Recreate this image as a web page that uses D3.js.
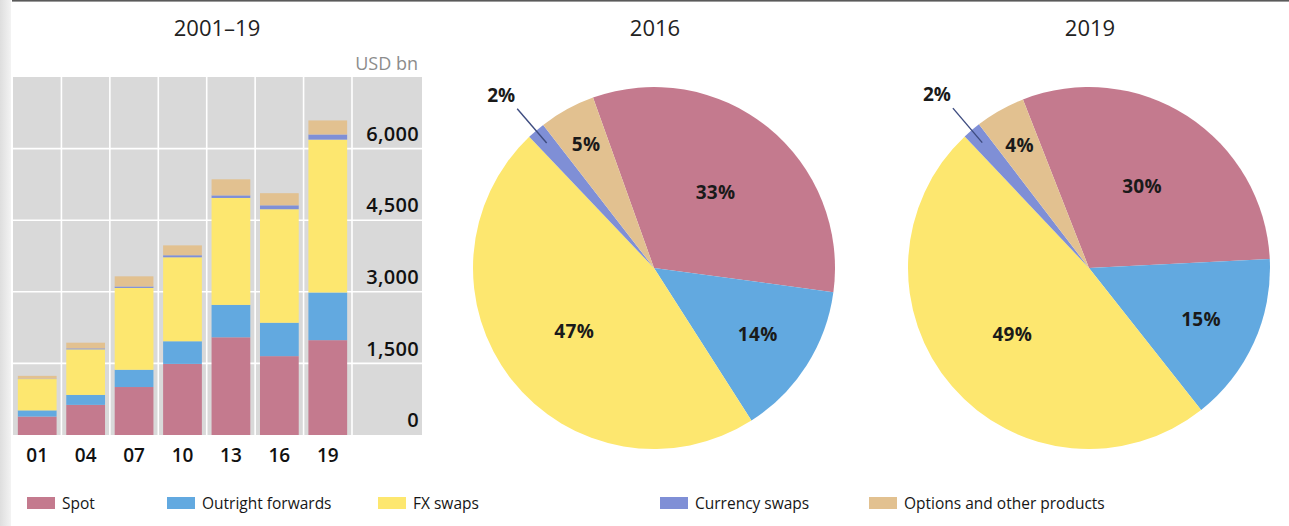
<!DOCTYPE html>
<html>
<head>
<meta charset="utf-8">
<script src="https://cdn.jsdelivr.net/npm/d3@7"></script>
<style>
  html, body { margin: 0; padding: 0; background: #fff; }
  svg { display: block; font-family: "Open Sans", "Noto Sans", sans-serif; }
</style>
</head>
<body>
<svg id="chart" width="1289" height="526"></svg>
<script>
// FX turnover by instrument, April daily averages, USD bn
const years = ["01", "04", "07", "10", "13", "16", "19"];
const spot = [386, 631, 1005, 1489, 2047, 1652, 1987];
const outrightForwards = [130, 209, 362, 475, 679, 700, 999];
const fxSwaps = [656, 954, 1714, 1759, 2240, 2378, 3202];
const currencySwaps = [7, 21, 31, 43, 54, 82, 108];
const optionsOther = [60, 119, 212, 207, 337, 254, 294];

const instruments = ["Spot", "Outright forwards", "FX swaps", "Currency swaps", "Options and other products"];
const yTicks = [0, 1500, 3000, 4500, 6000];
const pieYears = ["2016", "2019"];

const colors = ["#c47a8e", "#62a9e0", "#fde76f", "#7f8fd6", "#e2c190"];
const series = [spot, outrightForwards, fxSwaps, currencySwaps, optionsOther];

const svg = d3.select("#chart");

// page frame: shaded left margin and dark top rule
const grad = svg.append("defs").append("linearGradient").attr("id", "edge");
grad.append("stop").attr("offset", "0%").attr("stop-color", "#dedede");
grad.append("stop").attr("offset", "100%").attr("stop-color", "#f3f3f3");
svg.append("rect").attr("x", 0).attr("y", 0).attr("width", 11).attr("height", 526).attr("fill", "url(#edge)");
svg.append("rect").attr("x", 12).attr("y", 0).attr("width", 1277).attr("height", 1.6).attr("fill", "#5a5a5a");

// ---------- stacked bars 2001–19 ----------
const plot = { left: 13, right: 422, top: 77, bottom: 435, barsRight: 352 };

const x = d3.scaleBand().domain(years).range([plot.left, plot.barsRight])
  .paddingInner(0.2).paddingOuter(0.1);
const y = d3.scaleLinear().domain([0, 7500]).range([plot.bottom, plot.top]);

const barG = svg.append("g");
barG.append("rect")
  .attr("x", plot.left).attr("y", plot.top)
  .attr("width", plot.right - plot.left).attr("height", plot.bottom - plot.top)
  .attr("fill", "#d9d9d9");

// white grid
const step = x.step();
barG.selectAll("line.v").data(d3.range(1, years.length + 1)).join("line")
  .attr("x1", i => plot.left + i * step).attr("x2", i => plot.left + i * step)
  .attr("y1", plot.top).attr("y2", plot.bottom)
  .attr("stroke", "#fff").attr("stroke-width", 1.6);
barG.selectAll("line.h").data(yTicks.filter(t => t > 0)).join("line")
  .attr("x1", plot.left).attr("x2", plot.right)
  .attr("y1", d => y(d)).attr("y2", d => y(d))
  .attr("stroke", "#fff").attr("stroke-width", 1.6);

const table = years.map((yr, i) => {
  const row = { year: yr };
  instruments.forEach((k, j) => row[k] = series[j][i]);
  return row;
});
const stacked = d3.stack().keys(instruments)(table);

barG.selectAll("g.layer").data(stacked).join("g")
  .attr("fill", (d, i) => colors[i])
  .selectAll("rect").data(d => d).join("rect")
  .attr("x", d => x(d.data.year))
  .attr("width", x.bandwidth())
  .attr("y", d => y(d[1]))
  .attr("height", d => y(d[0]) - y(d[1]));

// value labels sit just above their grid lines, inside the grey panel
const yAxis = d3.axisRight(y).tickValues(yTicks).tickSize(0).tickFormat(d3.format(","));
const yAxisG = svg.append("g").attr("transform", `translate(${plot.right - 3},0)`).call(yAxis);
yAxisG.select(".domain").remove();
yAxisG.selectAll("text")
  .attr("x", 0).attr("dy", "-0.42em").attr("text-anchor", "end")
  .attr("font-size", 20).attr("font-weight", 600).attr("fill", "#111")
  .attr("letter-spacing", "0.3px")
  .attr("font-family", "Open Sans, sans-serif");

const xAxis = d3.axisBottom(x).tickSize(0);
const xAxisG = svg.append("g").attr("transform", `translate(0,${plot.bottom})`).call(xAxis);
xAxisG.select(".domain").remove();
xAxisG.selectAll("text")
  .attr("dy", "1.25em")
  .attr("font-size", 19).attr("font-weight", 600).attr("fill", "#111")
  .attr("font-family", "Open Sans, sans-serif");

svg.append("text").attr("x", 418).attr("y", 70).attr("text-anchor", "end")
  .attr("font-size", 18).attr("fill", "#8c8c8c").text("USD bn");

// panel titles
const titles = [["2001–19", 217], ["2016", 655], ["2019", 1090]];
svg.selectAll("text.title").data(titles).join("text")
  .attr("class", "title")
  .attr("x", d => d[1]).attr("y", 36).attr("text-anchor", "middle")
  .attr("font-size", 22).attr("fill", "#222").text(d => d[0]);

// ---------- pies ----------
const radius = 181;
const pieCenters = [[654, 268], [1089, 268]];
const pieStart = [-19.7, -21.4];
const labelRadius = [0.54, 0.68, 0.56, null, 0.78];

pieYears.forEach((yr, p) => {
  const col = years.indexOf(yr.slice(2));
  const values = series.map(s => s[col]);
  const total = d3.sum(values);
  const start = pieStart[p] * Math.PI / 180;
  const arcs = d3.pie().sort(null).startAngle(start).endAngle(start + 2 * Math.PI)(values);
  const arc = d3.arc().innerRadius(0).outerRadius(radius);
  const g = svg.append("g").attr("transform", `translate(${pieCenters[p][0]},${pieCenters[p][1]})`);

  g.selectAll("path").data(arcs).join("path")
    .attr("d", arc).attr("fill", (d, i) => colors[i]);

  const pct = v => Math.round(v / total * 100) + "%";

  arcs.forEach((a, i) => {
    const mid = (a.startAngle + a.endAngle) / 2;
    const pt = r => [Math.sin(mid) * r, -Math.cos(mid) * r];
    if (labelRadius[i] !== null) {
      const [lx, ly] = pt(labelRadius[i] * radius);
      g.append("text").attr("x", lx).attr("y", ly)
        .attr("text-anchor", "middle").attr("dominant-baseline", "central")
        .attr("font-size", 19).attr("font-weight", 700).attr("fill", "#1a1a1a")
        .attr("letter-spacing", "0.3px")
        .text(pct(a.value));
    } else {
      const [x1, y1] = pt(radius * 0.91);
      const [x2, y2] = pt(radius * 1.16);
      g.append("line").attr("x1", x1).attr("y1", y1).attr("x2", x2).attr("y2", y2)
        .attr("stroke", "#3e4c80").attr("stroke-width", 1.4);
      g.append("text").attr("x", x2 - 2).attr("y", y2 - 7)
        .attr("text-anchor", "end")
        .attr("font-size", 19).attr("font-weight", 700).attr("fill", "#1a1a1a")
        .text(pct(a.value));
    }
  });
});

// ---------- legend ----------
const legendX = [27, 167, 378, 660, 869];
const legend = svg.selectAll("g.legend").data(instruments).join("g")
  .attr("class", "legend")
  .attr("transform", (d, i) => `translate(${legendX[i]},497)`);
legend.append("rect").attr("width", 28).attr("height", 12).attr("fill", (d, i) => colors[i]);
legend.append("text").attr("x", 35).attr("y", 6).attr("dominant-baseline", "central")
  .attr("font-size", 15.5).attr("fill", "#161616").text(d => d);
</script>
</body>
</html>
